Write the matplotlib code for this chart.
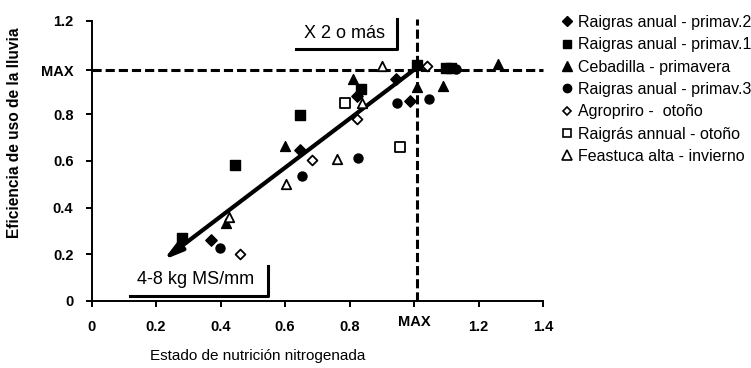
import matplotlib
matplotlib.use("Agg")
import matplotlib.pyplot as plt
from matplotlib.lines import Line2D

plt.rcParams['font.family'] = ['Liberation Sans', 'DejaVu Sans']

# ---- data ----
series_names = ["Raigras anual - primav.2", "Raigras anual - primav.1",
                "Cebadilla - primavera", "Raigras anual - primav.3",
                "Agropriro -  otoño", "Raigrás annual - otoño",
                "Feastuca alta - invierno"]
primav2_x = [0.369, 0.645, 0.823, 0.944, 0.988]
primav2_y = [0.261, 0.647, 0.878, 0.950, 0.857]
primav1_x = [0.280, 0.446, 0.646, 0.835, 1.010, 1.100, 1.115]
primav1_y = [0.271, 0.582, 0.797, 0.907, 1.012, 1.000, 1.000]
cebadilla_x = [0.418, 0.599, 0.810, 1.008, 1.090, 1.260]
cebadilla_y = [0.335, 0.665, 0.950, 0.918, 0.922, 1.015]
primav3_x = [0.397, 0.654, 0.825, 0.947, 1.045, 1.130]
primav3_y = [0.226, 0.535, 0.611, 0.847, 0.864, 0.995]
agropiro_x = [0.460, 0.683, 0.823, 1.040]
agropiro_y = [0.201, 0.604, 0.778, 1.008]
otono_x = [0.786, 0.956]
otono_y = [0.847, 0.661]
festuca_x = [0.427, 0.602, 0.760, 0.840, 0.900]
festuca_y = [0.358, 0.501, 0.607, 0.847, 1.008]

trend_x = [1.006, 0.223]
trend_y = [0.997, 0.176]
max_x = 1.01
max_y = 0.99

xticks = [0, 0.2, 0.4, 0.6, 0.8, 1.0, 1.2, 1.4]
xticklabels = ["0", "0.2", "0.4", "0.6", "0.8", "MAX", "1.2", "1.4"]
yticks = [0, 0.2, 0.4, 0.6, 0.8, max_y, 1.2]
yticklabels = ["0", "0.2", "0.4", "0.6", "0.8", "MAX", "1.2"]

# ---- figure ----
fig = plt.figure(figsize=(7.51, 3.68), dpi=100)
ax = fig.add_axes([91.5 / 751, (368 - 301) / 368, (543 - 91.5) / 751, (301 - 21) / 368])
ax.set_xlim(0, 1.4)
ax.set_ylim(0, 1.2)

for s in ['top', 'right']:
    ax.spines[s].set_visible(False)
for s in ['left', 'bottom']:
    ax.spines[s].set_linewidth(1.4)

# dashed MAX lines
ax.plot([0, 1.4], [max_y, max_y], color='black', lw=2.2, ls=(0, (3, 1.3)), zorder=2, clip_on=False)
ax.plot([max_x, max_x], [0, 1.21], color='black', lw=2.2, ls=(0, (3, 1.3)), zorder=2, clip_on=False)

# trend arrow
ax.annotate("", xy=(trend_x[1], trend_y[1]), xytext=(trend_x[0], trend_y[0]),
            arrowprops=dict(arrowstyle='-|>,head_length=1.1,head_width=0.3',
                            color='black', lw=3, shrinkA=0, shrinkB=0), zorder=3)

ms = 42
ax.scatter(primav2_x, primav2_y, marker='D', s=ms * 0.8, c='black', zorder=4, clip_on=False)
ax.scatter(primav1_x, primav1_y, marker='s', s=ms, c='black', zorder=4, clip_on=False)
ax.scatter(cebadilla_x, cebadilla_y, marker='^', s=ms * 1.2, c='black', zorder=4, clip_on=False)
ax.scatter(primav3_x, primav3_y, marker='o', s=ms, c='black', zorder=4, clip_on=False)
ax.scatter(agropiro_x, agropiro_y, marker='D', s=ms * 0.6, facecolors='white', edgecolors='black',
           linewidths=1.3, zorder=4, clip_on=False)
ax.scatter(otono_x, otono_y, marker='s', s=ms, facecolors='white', edgecolors='black',
           linewidths=1.3, zorder=4, clip_on=False)
ax.scatter(festuca_x, festuca_y, marker='^', s=ms * 1.1, facecolors='white', edgecolors='black',
           linewidths=1.3, zorder=4, clip_on=False)

# ticks
ax.set_xticks(xticks)
ax.set_xticklabels(xticklabels, fontweight='bold', fontsize=10.5)
ax.set_yticks(yticks)
ax.set_yticklabels(yticklabels, fontweight='bold', fontsize=10.5)
ax.tick_params(axis='both', direction='out', length=4, width=1.4)
ax.tick_params(axis='y', pad=9)
ax.tick_params(axis='x', pad=10)
for lab in ax.get_xticklabels():
    if lab.get_text() == "MAX":
        lab.set_y(0.02)

ax.set_ylabel("Eficiencia de uso de la lluvia", fontweight='bold', fontsize=11.2)
ax.yaxis.set_label_coords(-0.155, 0.6)
ax.set_xlabel("Estado de nutrición nitrogenada", fontsize=11)
ax.xaxis.set_label_coords(0.369, -0.17)

# annotation boxes (L-shaped frames)
ax.plot([0.633, 0.947, 0.947], [1.082, 1.082, 1.208], color='black', lw=2.2, clip_on=False)
ax.text(0.784, 1.145, "X 2 o más", ha='center', va='center', fontsize=13)
ax.plot([0.12, 0.548, 0.548], [0.023, 0.023, 0.15], color='black', lw=2.2, clip_on=False)
ax.text(0.322, 0.09, "4-8 kg MS/mm", ha='center', va='center', fontsize=13)

# legend
handles = [
    Line2D([], [], marker='D', color='black', ls='none', markersize=5),
    Line2D([], [], marker='s', color='black', ls='none', markersize=6),
    Line2D([], [], marker='^', color='black', ls='none', markersize=7),
    Line2D([], [], marker='o', color='black', ls='none', markersize=6),
    Line2D([], [], marker='D', markerfacecolor='white', markeredgecolor='black', ls='none',
           markersize=4.5, markeredgewidth=1.2),
    Line2D([], [], marker='s', markerfacecolor='white', markeredgecolor='black', ls='none',
           markersize=6, markeredgewidth=1.2),
    Line2D([], [], marker='^', markerfacecolor='white', markeredgecolor='black', ls='none',
           markersize=6.5, markeredgewidth=1.2),
]
fig.legend(handles, series_names, loc='upper left', bbox_to_anchor=(562 / 751, 1 - 15 / 368),
           frameon=False, fontsize=11.5, handlelength=0.6, handletextpad=0.4,
           labelspacing=0.46, borderpad=0, borderaxespad=0)

fig.savefig("out.png", dpi=100)
